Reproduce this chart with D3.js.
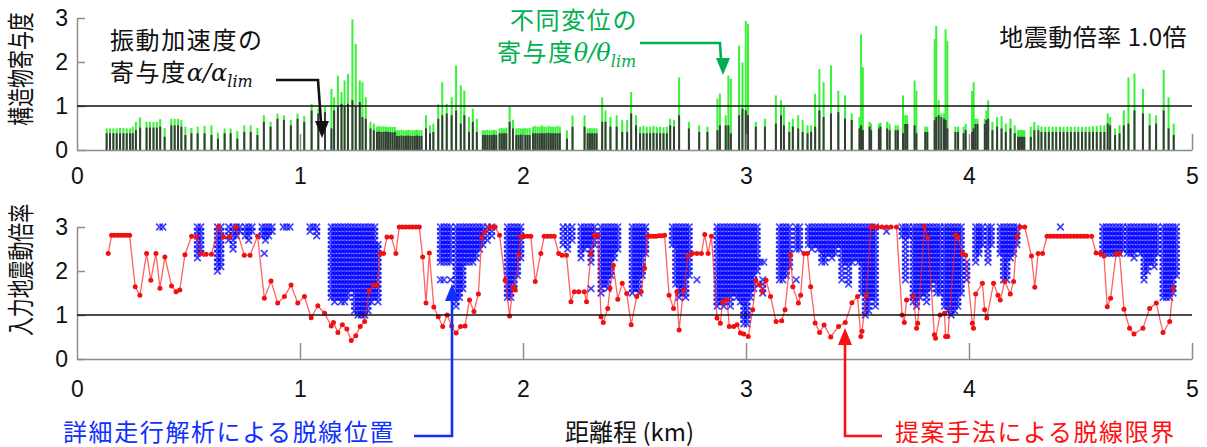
<!DOCTYPE html>
<html>
<head>
<meta charset="utf-8">
<script src="https://cdn.jsdelivr.net/npm/d3@7"></script>
<style>
body { margin: 0; background: #fff; }
svg { display: block; }
</style>
</head>
<body>
<svg id="chart" width="1207" height="447"></svg>
<script>
// top panel: structure contribution per bridge / section (km, total, alpha part)
const barKm = [
    0.133,0.148,0.163,0.178,0.193,0.208,0.223,0.238,0.250,0.264,0.283,0.312,0.327,0.343,0.358,0.373,0.393,0.423,0.438,0.453,0.468,0.486,0.513,0.541,0.572,0.603,0.632,0.662,0.689,0.719,0.750,0.779,0.809,0.838,0.868,0.899,0.928,0.959,0.989,1.019,
    1.052,1.082,1.112,1.141,1.153,1.170,1.186,1.200,1.215,1.235,1.250,1.268,1.280,1.295,1.316,1.331,
    1.345,1.355,1.365,1.375,1.385,1.395,1.405,1.415,1.425,1.435,1.445,1.455,1.465,1.475,1.485,1.495,1.505,1.515,1.525,1.535,1.545,
    1.565,1.583,1.598,1.620,1.638,1.658,1.680,1.700,1.721,1.737,1.758,1.775,1.793,
    1.820,1.830,1.840,1.850,1.860,1.870,1.880,1.895,1.905,1.915,1.925,1.940,1.955,
    1.970,1.980,1.990,2.000,2.010,2.020,2.030,2.045,2.055,2.065,2.075,2.085,2.095,2.105,2.115,2.125,2.135,2.145,2.155,2.165,
    2.197,2.222,2.276,2.290,2.300,2.310,2.320,2.330,2.355,2.370,2.392,2.420,2.445,2.467,2.485,2.507,
    2.525,2.540,2.555,2.570,2.585,2.600,2.615,2.630,2.645,2.660,2.677,2.700,2.744,2.790,2.827,
    2.872,2.883,2.909,2.921,2.932,2.969,2.984,2.999,3.009,3.044,3.085,3.134,3.157,3.170,3.194,3.210,3.234,3.254,3.276,3.292,
    3.310,3.329,3.348,3.381,3.414,3.444,3.474,3.509,3.516,3.524,3.554,3.561,3.596,3.603,3.633,3.644,3.671,3.681,3.704,3.714,3.723,3.756,3.764,3.804,3.813,
    3.846,3.853,3.864,3.876,3.888,3.895,3.903,3.939,3.951,3.976,3.985,4.014,4.021,4.029,4.038,4.071,4.078,4.086,4.105,4.126,4.146,4.165,4.186,4.205,
    4.220,4.227,4.234,4.241,4.248,4.277,4.293,4.311,4.325,4.342,4.358,4.375,4.391,4.408,4.424,4.441,4.457,4.474,4.490,4.507,4.523,4.540,4.556,4.573,4.590,4.607,
    4.622,4.633,4.655,4.675,4.694,4.715,4.742,4.780,4.810,4.839,4.873,4.895,4.918
]
const totalRatio = [
    .49,.49,.49,.49,.50,.50,.49,.49,.53,.64,.74,.64,.64,.64,.64,.70,.50,.71,.71,.71,.68,.53,.50,.53,.55,.56,.39,.49,.49,.43,.56,.56,.50,.79,.64,.83,.79,.68,.83,.77,
    1.05,.94,.98,1.39,1.20,1.69,1.32,1.58,1.73,2.97,2.41,1.58,1.54,1.20,.64,.60,
    .53,.55,.53,.54,.53,.52,.53,.52,.53,.45,.45,.46,.45,.45,.46,.45,.45,.45,.46,.45,.45,
    .79,.56,.60,1.04,1.54,1.05,1.20,1.92,1.47,1.35,.75,.94,.71,
    .45,.45,.46,.45,.45,.46,.45,.49,.50,.49,.51,.98,.68,
    .49,.50,.49,.49,.50,.49,.50,.53,.55,.53,.53,.56,.53,.53,.55,.53,.53,.53,.55,.53,
    .45,.79,.79,.49,.50,.49,.50,.49,1.20,.90,.75,.79,.68,.68,1.32,.79,
    .53,.55,.53,.53,.55,.53,.53,.52,.53,.71,.68,1.65,.64,.56,.53,
    1.17,1.28,.79,1.69,1.62,2.37,1.99,2.93,2.86,.64,.71,1.24,1.13,.98,.64,.71,.79,.68,.56,.56,
    1.28,1.84,1.54,1.92,1.35,1.24,.83,.75,2.63,1.88,.64,.60,.60,.62,.64,.60,.56,.56,1.24,.79,.79,1.58,1.35,.53,.53,
    2.52,2.82,1.13,.83,.83,2.74,2.48,.53,.53,.53,.59,1.34,1.54,.71,.71,.71,.90,1.13,.64,.75,.77,.60,.71,.56,
    .45,.45,.46,.45,.45,.53,.64,.56,.53,.53,.53,.53,.53,.53,.53,.53,.53,.53,.53,.53,.53,.53,.54,.55,.56,.56,
    .83,.75,.49,.56,.90,1.65,1.74,1.39,.83,.79,1.82,1.20,.60
]
const alphaRatio = [
    .38,.38,.38,.38,.38,.38,.38,.38,.38,.45,.51,.51,.51,.51,.51,.53,.30,.56,.56,.56,.53,.34,.38,.38,.38,.34,.26,.38,.38,.26,.41,.41,.34,.64,.53,.71,.68,.56,.71,.64,
    .90,.83,.86,.49,.90,.98,1.05,.98,1.05,1.13,.98,1.09,.75,.71,.49,.45,
    .41,.42,.41,.41,.42,.41,.41,.40,.41,.32,.32,.33,.32,.32,.33,.32,.32,.32,.33,.32,.32,
    .49,.38,.41,.71,.79,.83,.79,.90,.60,.79,.41,.64,.41,
    .34,.34,.34,.34,.34,.35,.34,.38,.38,.38,.38,.64,.49,
    .34,.34,.35,.34,.34,.34,.34,.38,.38,.38,.38,.38,.38,.38,.39,.38,.38,.38,.38,.38,
    .26,.53,.53,.38,.38,.38,.38,.38,.64,.64,.53,.53,.41,.41,.83,.56,
    .38,.38,.38,.38,.39,.38,.38,.38,.38,.56,.53,.79,.49,.41,.41,
    .45,.56,.56,.56,.38,.79,.94,.90,.79,.53,.53,.60,.79,.56,.41,.53,.49,.41,.38,.41,
    .53,.90,.75,.83,.86,.71,.68,.49,.56,.45,.53,.45,.49,.53,.49,.45,.45,.45,.38,.59,.59,.56,.38,.41,.41,
    .68,.75,.79,.75,.71,.68,.49,.41,.41,.38,.45,.41,.49,.59,.59,.59,.68,.71,.45,.53,.49,.41,.49,.38,
    .30,.30,.30,.30,.30,.30,.45,.45,.41,.41,.41,.41,.41,.41,.41,.41,.41,.41,.41,.41,.41,.41,.41,.41,.41,.41,
    .60,.56,.34,.38,.56,.60,.90,.83,.56,.60,.90,.49,.34
]

// bottom panel: proposed derailment limit (input motion scale) along the line
const limitKm = [
    0.140,0.155,0.168,0.182,0.195,0.209,0.222,0.236,0.261,0.282,
    0.312,0.331,0.354,0.372,0.394,0.424,0.444,0.461,0.484,0.514,
    0.536,0.556,0.579,0.603,0.634,0.656,0.683,0.713,0.750,0.776,
    0.810,0.840,0.870,0.900,0.930,0.960,0.990,1.020,1.050,1.080,
    1.110,1.140,1.150,1.170,1.190,1.210,1.230,1.250,1.270,1.290,
    1.310,1.330,1.345,1.360,1.375,1.390,1.410,1.430,1.445,1.460,
    1.475,1.490,1.505,1.520,1.535,1.550,1.565,1.580,1.600,1.620,
    1.640,1.660,1.680,1.700,1.720,1.740,1.760,1.780,1.800,1.815,
    1.830,1.850,1.862,1.875,1.895,1.920,1.940,1.955,1.965,1.980,
    1.990,2.005,2.020,2.035,2.055,2.080,2.095,2.110,2.125,2.140,
    2.160,2.175,2.195,2.215,2.230,2.250,2.275,2.285,2.305,2.320,
    2.335,2.350,2.360,2.380,2.390,2.405,2.425,2.445,2.465,2.485,
    2.510,2.530,2.545,2.560,2.572,2.585,2.597,2.610,2.622,2.635,
    2.655,2.675,2.690,2.700,2.720,2.740,2.760,2.780,2.800,2.815,
    2.830,2.845,2.870,2.885,2.895,2.915,2.925,2.945,2.960,2.975,
    2.990,3.010,3.030,3.045,3.060,3.075,3.090,3.110,3.135,3.160,
    3.175,3.200,3.210,3.235,3.245,3.260,3.275,3.290,3.310,3.330,
    3.350,3.380,3.415,3.445,3.475,3.500,3.515,3.520,3.540,3.560,
    3.575,3.590,3.610,3.630,3.650,3.675,3.700,3.710,3.720,3.750,
    3.765,3.770,3.800,3.815,3.845,3.850,3.870,3.890,3.895,3.905,
    3.940,3.950,3.970,3.985,4.015,4.020,4.030,4.060,4.070,4.080,
    4.110,4.130,4.140,4.160,4.185,4.200,4.215,4.230,4.250,4.280,
    4.295,4.310,4.330,4.350,4.365,4.380,4.395,4.410,4.425,4.440,
    4.455,4.470,4.485,4.500,4.515,4.530,4.550,4.570,4.590,4.605,
    4.620,4.635,4.660,4.675,4.695,4.720,4.740,4.780,4.810,4.840,
    4.870,4.900,4.915
]
const limitScale = [
    2.40,2.81,2.81,2.81,2.81,2.81,2.81,2.81,1.64,1.45,
    2.40,1.79,2.40,1.61,2.32,1.66,1.53,1.57,2.37,2.79,
    2.77,2.40,2.38,2.38,3.00,2.77,2.77,3.00,2.36,2.36,
    2.79,1.38,1.77,1.27,1.42,1.68,1.27,1.42,0.94,1.21,
    1.04,0.75,0.83,0.60,0.78,0.68,0.42,0.53,0.74,0.85,
    1.55,1.68,1.68,2.40,2.40,2.77,2.77,2.40,3.00,3.00,
    3.00,3.00,3.00,3.00,3.00,2.32,1.27,2.41,1.18,0.96,
    0.74,1.00,0.75,0.59,0.74,0.75,1.34,1.08,1.48,2.77,
    2.89,3.00,3.00,3.00,2.81,1.79,0.98,1.63,1.57,2.36,
    2.79,2.79,2.79,2.79,1.76,2.40,2.79,2.79,2.79,2.79,
    2.40,2.36,2.36,1.30,1.53,1.53,1.53,1.30,2.40,2.81,
    2.81,0.96,0.83,1.15,1.61,2.13,1.36,1.72,1.49,0.78,
    1.42,1.53,2.06,2.79,2.79,2.79,2.79,2.80,2.80,2.81,
    1.45,1.15,1.53,0.66,1.57,2.34,2.40,2.40,2.40,2.83,
    2.40,2.79,0.93,0.81,1.30,1.34,0.74,0.74,0.78,0.59,
    0.57,0.51,1.12,1.78,1.68,1.53,1.79,1.42,0.85,0.87,
    1.12,2.36,1.64,1.27,1.45,2.40,2.40,1.64,0.82,0.60,
    0.77,0.50,0.74,0.83,1.28,1.42,0.51,0.63,1.45,3.00,
    3.00,3.00,3.00,3.00,3.00,3.00,1.00,0.83,1.34,1.42,
    0.70,0.81,3.00,2.77,0.55,0.47,1.00,1.04,0.51,0.51,
    2.81,2.77,2.40,2.36,0.81,0.70,1.48,1.72,1.12,0.93,
    1.72,1.45,1.34,1.76,1.48,1.76,2.79,3.00,3.00,2.34,
    1.63,2.40,2.40,2.79,2.79,2.79,2.79,2.79,2.79,2.79,
    2.79,2.79,2.79,2.79,2.79,2.79,2.79,2.41,2.40,2.34,
    1.19,1.38,2.40,2.40,1.13,0.70,0.57,0.70,1.15,1.27,
    0.60,0.85,1.61
]

// bottom panel: detailed running analysis, derailed cases (km, lowest and highest derailing scale)
const derailKm = [
    0.370,0.385,0.540,0.555,0.630,0.645,0.680,0.700,0.715,0.730,
    0.755,0.770,0.785,0.840,0.830,0.845,0.860,0.875,0.925,0.940,
    0.955,1.045,1.060,1.075,1.140,1.155,1.170,1.185,1.200,1.215,
    1.230,1.245,1.260,1.275,1.290,1.305,1.320,1.335,1.350,1.630,
    1.645,1.660,1.675,1.630,1.645,1.675,1.700,1.715,1.730,1.745,
    1.760,1.775,1.790,1.805,1.820,1.840,1.860,1.930,1.945,1.960,
    1.975,1.990,2.180,2.200,2.220,2.260,2.275,2.290,2.305,2.305,
    2.320,2.350,2.365,2.380,2.395,2.410,2.425,2.490,2.505,2.520,
    2.535,2.550,2.670,2.685,2.700,2.715,2.730,2.745,2.780,2.870,
    2.885,2.900,2.915,2.930,2.945,2.960,2.975,2.990,3.005,3.020,
    3.035,3.050,3.065,3.080,3.075,3.150,3.165,3.180,3.195,3.225,
    3.225,3.240,3.280,3.295,3.310,3.325,3.340,3.355,3.370,3.385,
    3.400,3.415,3.430,3.445,3.460,3.475,3.490,3.505,3.520,3.535,
    3.550,3.565,3.580,3.630,3.700,3.715,3.730,3.750,3.765,3.780,
    3.795,3.810,3.825,3.840,3.855,3.870,3.890,3.905,3.920,3.935,
    3.950,3.965,3.990,4.030,4.045,4.060,4.085,4.100,4.140,4.155,
    4.170,4.185,4.200,4.215,4.410,4.600,4.615,4.630,4.645,4.660,
    4.675,4.690,4.710,4.725,4.740,4.755,4.770,4.785,4.800,4.815,
    4.830,4.845,4.870,4.885,4.900,4.915,4.930
]
const derailLo = [
    3.0,3.0,2.3,2.4,2.0,2.1,2.7,2.5,2.8,2.9,
    2.8,2.7,2.9,2.4,2.8,2.7,2.8,2.9,3.0,3.0,
    3.0,2.9,3.0,2.8,1.4,1.3,1.4,1.3,1.3,1.4,
    1.6,1.1,1.0,1.0,1.0,1.1,1.3,1.4,1.3,2.2,
    2.2,2.2,2.2,1.8,1.8,1.8,1.2,1.4,1.6,2.2,
    2.2,2.2,2.3,2.5,2.6,2.7,2.8,1.4,1.4,1.6,
    1.9,2.3,2.6,2.5,2.7,2.3,2.5,2.6,2.2,1.6,
    2.6,1.5,1.7,1.6,1.9,2.3,2.5,1.5,1.6,1.5,
    1.9,2.4,2.6,1.7,1.4,1.5,1.4,1.9,1.8,1.2,
    1.3,1.2,1.4,1.2,1.5,1.4,1.3,0.8,0.8,1.4,
    1.6,2.0,2.2,2.2,1.5,1.8,1.8,1.9,2.1,1.8,
    2.5,2.5,2.6,2.5,2.6,2.5,2.2,2.2,2.4,2.3,
    2.4,2.6,1.8,2.2,1.7,2.2,2.3,2.2,1.5,1.0,
    1.1,1.4,1.2,2.9,2.8,1.8,2.8,1.3,1.2,1.4,
    1.5,1.3,1.6,1.8,1.5,1.5,1.2,1.1,1.0,1.1,
    1.2,1.5,1.8,2.2,2.4,2.6,2.2,2.6,2.4,1.8,
    1.8,2.3,2.4,2.6,3.0,2.4,2.4,2.4,2.4,2.4,
    2.4,2.5,2.4,2.4,2.3,2.5,2.4,1.8,2.0,2.2,
    2.1,2.4,1.4,1.4,1.4,1.5,1.9
]
const derailHi = [
    3.0,3.0,3.0,3.0,3.0,3.0,3.0,3.0,3.0,3.0,
    3.0,3.0,3.0,2.4,3.0,3.0,3.0,3.0,3.0,3.0,
    3.0,3.0,3.0,3.0,3.0,3.0,3.0,3.0,3.0,3.0,
    3.0,3.0,3.0,3.0,3.0,3.0,3.0,3.0,2.6,3.0,
    3.0,3.0,3.0,1.8,1.8,1.8,3.0,3.0,3.0,3.0,
    3.0,3.0,3.0,3.0,3.0,3.0,3.0,3.0,3.0,3.0,
    3.0,3.0,3.0,3.0,3.0,3.0,3.0,3.0,3.0,1.6,
    3.0,3.0,3.0,3.0,3.0,3.0,3.0,3.0,3.0,3.0,
    3.0,3.0,3.0,3.0,3.0,3.0,3.0,3.0,1.8,3.0,
    3.0,3.0,3.0,3.0,3.0,3.0,3.0,3.0,3.0,3.0,
    3.0,3.0,2.2,2.2,1.8,3.0,3.0,3.0,3.0,1.8,
    3.0,3.0,3.0,3.0,3.0,3.0,3.0,3.0,3.0,3.0,
    3.0,3.0,3.0,3.0,3.0,3.0,3.0,3.0,3.0,3.0,
    3.0,3.0,3.0,2.9,3.0,3.0,3.0,3.0,3.0,3.0,
    3.0,3.0,3.0,3.0,3.0,3.0,3.0,3.0,3.0,3.0,
    3.0,3.0,2.2,3.0,3.0,3.0,3.0,3.0,3.0,3.0,
    3.0,3.0,3.0,3.0,3.0,3.0,3.0,3.0,3.0,3.0,
    3.0,3.0,3.0,3.0,3.0,3.0,3.0,3.0,3.0,3.0,
    3.0,3.0,3.0,3.0,3.0,3.0,3.0
]
const scaleStep = 0.1   // input motion scale step of the running analysis

const xTicks = [0, 1, 2, 3, 4, 5]
const yTicks = [0, 1, 2, 3]

const svg = d3.select('#chart')
const x = d3.scaleLinear().domain([0, 5]).range([77, 1192])
const yTop = d3.scaleLinear().domain([0, 3]).range([150, 18])
const yBot = d3.scaleLinear().domain([0, 3]).range([359, 227])

const axisColor = '#8c8c8c'
const numFont = '"Liberation Sans Narrow","Arial Narrow","Liberation Sans",Arial,sans-serif'
const jpFont = '"Noto Sans CJK JP","Noto Sans",sans-serif'
const mathFont = '"DejaVu Serif","Liberation Serif",serif'

// ---- top panel bars
let bars = barKm.map((km, i) => ({ km: km, total: totalRatio[i], alpha: alphaRatio[i] }))

svg.append('g').selectAll('rect')
    .data(bars)
    .enter().append('rect')
    .attr('x', d => x(d.km) - 1)
    .attr('width', 2)
    .attr('y', d => yTop(d.total))
    .attr('height', d => yTop(0) - yTop(d.total))
    .attr('fill', '#3af23a')

svg.append('g').selectAll('rect')
    .data(bars)
    .enter().append('rect')
    .attr('x', d => x(d.km) - 1)
    .attr('width', 2)
    .attr('y', d => yTop(d.alpha))
    .attr('height', d => yTop(0) - yTop(d.alpha))
    .attr('fill', '#3a3a3a')

// ---- bottom panel: blue crosses for every derailing scale
let crosses = []
derailKm.forEach((km, i) => {
    let n = Math.round((derailHi[i] - derailLo[i]) / scaleStep)
    for (let k = 0; k <= n; k++) {
        crosses.push({ km: km, s: derailLo[i] + k * scaleStep })
    }
})

svg.append('g').selectAll('path')
    .data(crosses)
    .enter().append('path')
    .attr('transform', d => 'translate(' + x(d.km) + ',' + yBot(d.s) + ')')
    .attr('d', 'M-3.3,-3.3L3.3,3.3M-3.3,3.3L3.3,-3.3')
    .attr('stroke', '#0000ff')
    .attr('stroke-width', 1.7)
    .attr('stroke-opacity', 0.75)
    .attr('fill', 'none')

// ---- red limit line
let limits = limitKm.map((km, i) => ({ km: km, v: limitScale[i] }))
let line = d3.line().x(d => x(d.km)).y(d => yBot(d.v))

svg.append('path')
    .datum(limits)
    .attr('d', line)
    .attr('fill', 'none')
    .attr('stroke', '#ff2020')
    .attr('stroke-opacity', 0.7)
    .attr('stroke-width', 1.3)

svg.append('g').selectAll('circle')
    .data(limits)
    .enter().append('circle')
    .attr('cx', d => x(d.km))
    .attr('cy', d => yBot(d.v))
    .attr('r', 2.5)
    .attr('fill', '#f01010')

// ---- axes
function drawAxes(y, pad) {
    let gx = svg.append('g')
        .attr('transform', 'translate(0,' + y(0) + ')')
        .call(d3.axisBottom(x).tickValues(xTicks).tickSizeInner(-16).tickSizeOuter(0)
            .tickPadding(pad).tickFormat(d3.format('d')))
    let gy = svg.append('g')
        .attr('transform', 'translate(' + x(0) + ',0)')
        .call(d3.axisLeft(y).tickValues(yTicks).tickSizeInner(-8).tickSizeOuter(0)
            .tickPadding(9).tickFormat(d3.format('d')))

    ;[gx, gy].forEach(g => {
        g.select('.domain').attr('stroke', axisColor).attr('stroke-width', 1.5)
        g.selectAll('.tick line').attr('stroke', axisColor).attr('stroke-width', 1.5)
        g.selectAll('.tick text')
            .attr('font-family', numFont)
            .attr('font-size', 23)
            .attr('fill', '#111')
    })
    gx.select('.tick line').remove()

    // reference line at 1.0
    svg.append('line')
        .attr('x1', x(0)).attr('x2', x(5))
        .attr('y1', y(1)).attr('y2', y(1))
        .attr('stroke', '#111')
        .attr('stroke-width', 1.6)
}

drawAxes(yTop, 18)
drawAxes(yBot, 22)

// ---- axis titles
function vText(txt, cx, cy) {
    svg.append('text')
        .attr('transform', 'translate(' + cx + ',' + cy + ') rotate(-90) scale(0.7,1)')
        .attr('text-anchor', 'middle')
        .attr('dominant-baseline', 'central')
        .attr('font-family', jpFont)
        .attr('font-size', 27)
        .attr('fill', '#111')
        .text(txt)
}
vText('構造物寄与度', 19, 69)
vText('入力地震動倍率', 19, 270)

function label(txt, px, py, color, anchor) {
    return svg.append('text')
        .attr('x', px).attr('y', py)
        .attr('text-anchor', anchor || 'start')
        .attr('font-family', jpFont)
        .attr('font-size', 24)
        .attr('letter-spacing', 1.6)
        .attr('fill', color)
        .text(txt)
}

svg.append('text')
    .attr('x', 565).attr('y', 441)
    .attr('font-family', jpFont)
    .attr('font-size', 24)
    .attr('fill', '#111')
    .text('距離程 (km)')

label('地震動倍率 1.0倍', 1187, 46, '#111', 'end').attr('letter-spacing', 0.5)

// vibration acceleration annotation
label('振動加速度の', 110, 49, '#111')
let t1 = label('寄与度', 110, 81, '#111')
t1.append('tspan').attr('font-family', mathFont).attr('font-style', 'italic').attr('letter-spacing', 0).text('α/α')
t1.append('tspan').attr('font-family', mathFont).attr('font-style', 'italic').attr('font-size', 16)
    .attr('letter-spacing', 0).attr('dy', 6).text('lim')

// differential displacement annotation
const green = '#00b050'
label('不同変位の', 510, 29, green)
let t2 = label('寄与度', 497, 61, green)
t2.append('tspan').attr('font-family', mathFont).attr('font-style', 'italic').attr('letter-spacing', 0).text('θ/θ')
t2.append('tspan').attr('font-family', mathFont).attr('font-style', 'italic').attr('font-size', 16)
    .attr('letter-spacing', 0).attr('dy', 6).text('lim')

label('詳細走行解析による脱線位置', 63, 441, '#1030ff')
label('提案手法による脱線限界', 895, 441, '#ff1010')

// ---- arrows
function arrow(pts, tip, dir, color) {
    svg.append('path')
        .attr('d', d3.line()(pts))
        .attr('fill', 'none')
        .attr('stroke', color)
        .attr('stroke-width', 2.6)
    // dir: 1 pointing down, -1 pointing up
    let h = 17, w = 7
    svg.append('path')
        .attr('d', 'M' + tip[0] + ',' + tip[1] +
            'L' + (tip[0] - w) + ',' + (tip[1] - dir * h) +
            'L' + (tip[0] + w) + ',' + (tip[1] - dir * h) + 'Z')
        .attr('fill', color)
}

arrow([[276, 80], [318, 80], [321, 122]], [322, 138], 1, '#111')
arrow([[640, 43], [720, 43], [721, 60]], [723, 75], 1, green)
arrow([[414, 436], [452, 436], [452, 300]], [452, 284], -1, '#1030ff')
arrow([[882, 436], [845, 436], [845, 344]], [845, 328], -1, '#ff1010')
</script>
</body>
</html>
